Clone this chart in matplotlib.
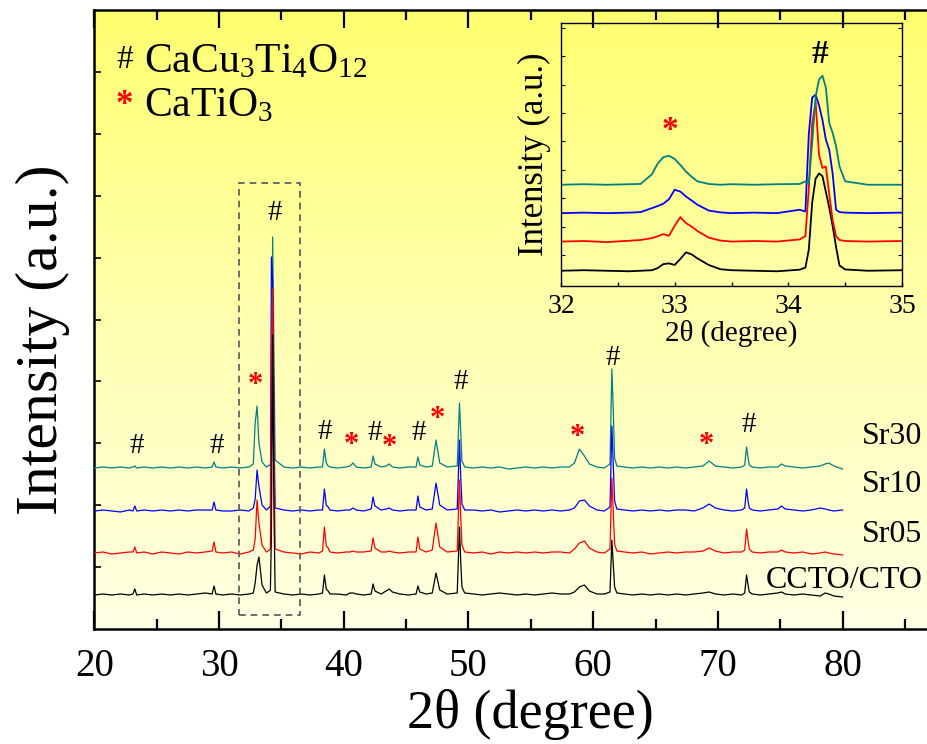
import numpy as np
import matplotlib
matplotlib.use("Agg")
import matplotlib.pyplot as plt
from matplotlib.colors import LinearSegmentedColormap
from matplotlib.patches import Rectangle

plt.rcParams['font.family'] = ['Liberation Serif', 'DejaVu Serif']
plt.rcParams['mathtext.fontset'] = 'custom'
plt.rcParams['mathtext.rm'] = 'Liberation Serif'
plt.rcParams['mathtext.it'] = 'Liberation Serif:italic'

# ---------------- main pattern data ----------------
two_theta = [20.0, 20.7, 21.4, 22.1, 22.8, 23.1, 23.25, 23.4, 24.0, 24.7,
             25.4, 26.1, 26.8, 27.5, 28.2, 28.9, 29.45, 29.6, 29.75, 30.3,
             31.0, 31.7, 32.4, 32.75, 32.9, 33.05, 33.2, 33.45, 33.8, 34.05,
             34.12, 34.2, 34.3, 34.4, 34.5, 35.2, 35.9, 36.6, 37.3, 38.0,
             38.3, 38.45, 38.6, 38.75, 38.9, 39.5, 40.2, 40.5, 40.75, 41.0,
             41.6, 42.2, 42.35, 42.5, 43.0, 43.4, 43.65, 43.9, 44.5, 45.2,
             45.8, 45.95, 46.1, 46.6, 47.1, 47.4, 47.7, 48.3, 49.1, 49.28,
             49.38, 49.48, 49.7, 50.4, 51.1, 51.8, 52.5, 53.2, 53.9, 54.6,
             55.3, 56.0, 56.7, 57.4, 58.1, 58.5, 58.9, 59.3, 59.7, 60.3,
             60.9, 61.35, 61.5, 61.62, 61.72, 61.9, 62.5, 63.2, 63.9, 64.6,
             65.3, 66.0, 66.7, 67.4, 68.1, 68.8, 69.3, 69.8, 70.5, 71.2,
             71.9, 72.15, 72.3, 72.42, 72.52, 72.75, 73.4, 74.1, 74.8, 75.1,
             75.4, 76.1, 76.8, 77.5, 78.2, 78.6, 78.9, 79.3, 80.0]

int_ccto_cto = [0, 1, 0, 1, 0, 1, 6, 0, 1, 0,
                1, 0, 1, 0, 1, 2, 1, 9, 1, 0,
                1, 0, 1, 2, 12, 30, 38, 10, 2, 4,
                5, 60, 260, 90, 3, 1, 0, 1, 0, 1,
                2, 20, 6, 4, 1, 1, 0, 2, 2, 1,
                0, 1, 11, 4, 1, 4, 6, 3, 1, 0,
                1, 9, 3, 1, 2, 22, 5, 1, 2, 68,
                34, 8, 2, 1, 0, 1, 2, 1, 0, 1,
                0, 1, 2, 1, 1, 3, 8, 10, 4, 1,
                1, 3, 55, 30, 8, 2, 1, 0, 1, 0,
                1, 0, 1, 0, 1, 2, 3, 1, 0, 1,
                0, 2, 20, 10, 3, 1, 0, 1, 2, 3,
                1, 0, 1, 0, -1, 2, 1, -1, -2]

int_sr05 = [0, 1, -1, 0, 1, 1, 6, 0, 1, -1,
            1, 0, -1, 1, 0, 1, 2, 11, 1, 0,
            1, -1, 1, 3, 14, 53, 30, 8, 1, 3,
            4, 200, 265, 110, 4, 1, 0, -1, 1, 0,
            2, 26, 7, 5, 1, 0, 1, 1, 2, 1,
            1, 2, 15, 5, 1, 1, 2, 1, 0, 1,
            1, 16, 4, 1, 3, 30, 6, 1, 2, 73,
            36, 8, 1, 0, 1, -1, 1, 0, 1, 0,
            1, 0, 1, 1, 0, 4, 10, 12, 5, 1,
            0, 4, 75, 40, 9, 2, 1, 0, 1, -1,
            0, 1, 0, 1, 1, 2, 5, 2, 0, 1,
            1, 3, 24, 12, 4, 1, 0, 1, 1, 3,
            1, 0, 1, -1, 0, 1, 0, -1, -2]

int_sr10 = [0, 1, 0, -1, 1, 0, 5, 0, 1, 0,
            1, 0, 1, 0, 1, 1, 1, 9, 1, 0,
            0, 1, 0, 3, 12, 41, 25, 6, 1, 4,
            5, 254, 230, 90, 3, 1, 0, 1, 0, 1,
            1, 22, 6, 4, 1, 0, 1, 1, 3, 1,
            0, 2, 14, 5, 1, 2, 3, 1, 0, 1,
            1, 15, 4, 1, 2, 28, 6, 1, 2, 71,
            35, 7, 1, 1, 0, 1, -1, 0, 1, 0,
            1, 0, 1, 0, 1, 3, 10, 11, 5, 1,
            0, 4, 85, 45, 10, 2, 1, 0, 1, 0,
            1, 0, 1, 1, 0, 3, 7, 3, 1, 0,
            1, 3, 22, 10, 3, 1, 0, 1, 2, 5,
            2, 1, 0, 1, 3, 2, 1, 0, 1]

int_sr30 = [0, 1, 0, 1, 0, 1, 2, 0, 1, 0,
            1, 0, 1, 0, 1, 0, 1, 6, 1, 0,
            1, 0, 1, 4, 45, 62, 25, 6, 1, 3,
            2, 20, 231, 120, 8, 1, 0, 1, 0, 1,
            1, 19, 5, 2, 1, 0, 1, 2, 5, 1,
            0, 1, 12, 4, 1, 2, 4, 1, 0, 1,
            1, 11, 3, 1, 2, 28, 5, 1, 2, 65,
            35, 7, 1, 0, 1, 0, 1, -1, 0, 1,
            0, 1, 0, 1, 1, 5, 19, 12, 4, 1,
            0, 4, 99, 55, 10, 2, 1, 0, 1, 0,
            1, 0, 1, 0, 1, 2, 7, 2, 1, 0,
            1, 3, 21, 10, 3, 1, 0, 1, 1, 4,
            2, 1, 0, 1, 2, 4, 5, 2, -1]

sample_names = ["CCTO/CTO", "Sr05", "Sr10", "Sr30"]
sample_colors = ["black", "#ff0000", "#0000ff", "#008080"]

# ---------------- inset data ----------------
inset_theta = [32.0, 32.2, 32.4, 32.6, 32.7, 32.8, 32.85, 32.9, 32.95, 33.0,
               33.05, 33.1, 33.15, 33.2, 33.3, 33.4, 33.5, 33.7, 33.9, 34.1,
               34.15, 34.18, 34.21, 34.24, 34.27, 34.3, 34.33, 34.36, 34.39, 34.42,
               34.45, 34.5, 34.7, 35.0]
inset_ccto_cto = [0, 0.002, 0, -0.002, 0, 0.002, 0.01, 0.025, 0.028, 0.022,
                  0.045, 0.07, 0.062, 0.047, 0.022, 0.006, 0.002, 0, -0.002, 0.004,
                  0.012, 0.08, 0.26, 0.35, 0.37, 0.36, 0.3, 0.24, 0.17, 0.09,
                  0.02, 0.005, 0, 0.002]
inset_sr05 = [0, 0.002, -0.002, 0.003, 0.006, 0.013, 0.02, 0.028, 0.022, 0.06,
              0.093, 0.07, 0.057, 0.04, 0.015, 0.004, 0, 0.002, 0, 0.008,
              0.02, 0.2, 0.45, 0.53, 0.33, 0.28, 0.285, 0.18, 0.08, 0.02,
              0.006, 0.002, 0, 0.002]
inset_sr10 = [0, 0.002, 0, 0.002, 0.004, 0.019, 0.027, 0.036, 0.053, 0.089,
              0.082, 0.063, 0.048, 0.032, 0.01, 0.003, 0, 0.002, 0, 0.013,
              0.006, 0.3, 0.44, 0.45, 0.41, 0.355, 0.28, 0.24, 0.15, 0.013,
              0.004, 0.002, 0, 0.002]
inset_sr30 = [0, 0.002, 0, 0.002, 0.003, 0.04, 0.08, 0.105, 0.11, 0.098,
              0.075, 0.05, 0.03, 0.013, 0.003, 0, 0.002, 0, 0.002, 0.003,
              0.013, 0.006, 0.16, 0.335, 0.4, 0.415, 0.37, 0.235, 0.197, 0.146,
              0.07, 0.013, 0, 0]

# phase markers (2theta, label height)
ccto_marks = [(23.4, 149), (29.85, 149), (34.45, 382), (38.45, 163), (42.45, 162),
              (46.05, 162), (49.4, 213), (61.55, 237), (72.5, 170)]
cto_marks = [(32.9, 210), (40.6, 150), (43.65, 148), (47.5, 175), (58.7, 158), (69.1, 149)]

# ---------------- figure ----------------
fig = plt.figure(figsize=(9.27, 7.44), dpi=100)
ax = fig.add_axes([94.3 / 927, 1 - 629 / 744, 873 / 927, 619 / 744])

cmap = LinearSegmentedColormap.from_list("bg", ["#ffffe4", "#ffffb0", "#ffff70"])
grad = np.linspace(0, 1, 256).reshape(-1, 1)
ax.imshow(grad, cmap=cmap, origin="lower", aspect="auto",
          extent=[0, 1, 0, 1], transform=ax.transAxes, zorder=0)

offsets = [0, 42, 84, 127]
series = [int_ccto_cto, int_sr05, int_sr10, int_sr30]
x = np.array(two_theta)
for i in [3, 2, 1, 0]:
    ax.plot(x, np.array(series[i]) + offsets[i], color=sample_colors[i], lw=0.9, zorder=3 + (3 - i))

ax.set_xlim(20, 90)
ax.set_ylim(-34, 585)
ax.set_xticks([20, 30, 40, 50, 60, 70, 80])
ax.set_xticks(np.arange(25, 90, 10), minor=True)
ax.set_yticks(-34 + 61.9 * np.arange(1, 10))
ax.set_yticklabels([])
ax.tick_params(axis='x', which='major', direction='in', length=13, width=1.6,
               labelsize=28, pad=14, top=True)
ax.tick_params(axis='x', which='minor', direction='in', length=7, width=1.6, top=True)
ax.tick_params(axis='y', which='major', direction='in', length=5, width=1.2)
for s in ['left', 'bottom', 'top']:
    ax.spines[s].set_linewidth(1.8)
ax.spines['right'].set_visible(False)

fig.text(530 / 927, 1 - 714 / 744, "2θ (degree)", fontsize=39, ha='center', va='center')
fig.text(43 / 927, 1 - 340 / 744, "Intensity (a.u.)", fontsize=43, ha='center', va='center',
         rotation=90)

for (px, py) in ccto_marks:
    ax.text(px, py, "#", fontsize=21, ha='center', va='center', color='black', zorder=10)
for (px, py) in cto_marks:
    ax.text(px, py, "*", fontsize=22, ha='center', va='center', color='#ff0000',
            fontweight='bold', zorder=10)

label_y = [15, 60, 110, 158]
for name, ly in zip(sample_names, label_y):
    ax.text(86.4, ly, name, fontsize=23, ha='right', va='center', zorder=10)

ax.add_patch(Rectangle((31.6, -20), 4.9, 432, fill=False, ls=(0, (4, 3)),
                       lw=1.2, edgecolor='#555555', zorder=9))

fig.text(116 / 927, 1 - 60 / 744, "#", fontsize=24, ha='left', va='center')
fig.text(144 / 927, 1 - 62 / 744, r"CaCu$_3$Ti$_4$O$_{12}$", fontsize=30, ha='left', va='center')
fig.text(116 / 927, 1 - 106 / 744, "*", fontsize=25, ha='left', va='center',
         color='#ff0000', fontweight='bold')
fig.text(144 / 927, 1 - 106 / 744, r"CaTiO$_3$", fontsize=30, ha='left', va='center')

# ---------------- inset ----------------
ins = fig.add_axes([561 / 927, 1 - 286 / 744, 341 / 927, 263 / 744])
ins.set_facecolor('none')
ins_offsets = [0.058, 0.169, 0.277, 0.385]
ins_series = [inset_ccto_cto, inset_sr05, inset_sr10, inset_sr30]
xi = np.array(inset_theta)
for i in [0, 1, 2, 3]:
    ins.plot(xi, np.array(ins_series[i]) + ins_offsets[i], color=sample_colors[i], lw=1.3)
ins.set_xlim(32, 35)
ins.set_ylim(0, 1)
ins.set_xticks([32, 33, 34, 35])
ins.set_xticks([32.5, 33.5, 34.5], minor=True)
ins.set_yticks(0.01 + 0.108 * np.arange(1, 10))
ins.set_yticklabels([])
ins.tick_params(axis='x', which='both', direction='in', length=3, width=1, labelsize=20, pad=6)
ins.tick_params(axis='y', which='both', direction='in', length=3, width=0.8, left=True, right=True)
for s in ins.spines.values():
    s.set_linewidth(1.0)
ins.set_xlabel("2θ (degree)", fontsize=21, labelpad=0)
ins.set_ylabel("Intensity (a.u.)", fontsize=25, labelpad=4)
ins.text(32.96, 0.59, "*", fontsize=24, ha='center', va='center', color='#ff0000', fontweight='bold')
ins.text(34.28, 0.88, "#", fontsize=24, ha='center', va='center', color='black', fontweight='bold')

fig.savefig("out.png", dpi=100)
